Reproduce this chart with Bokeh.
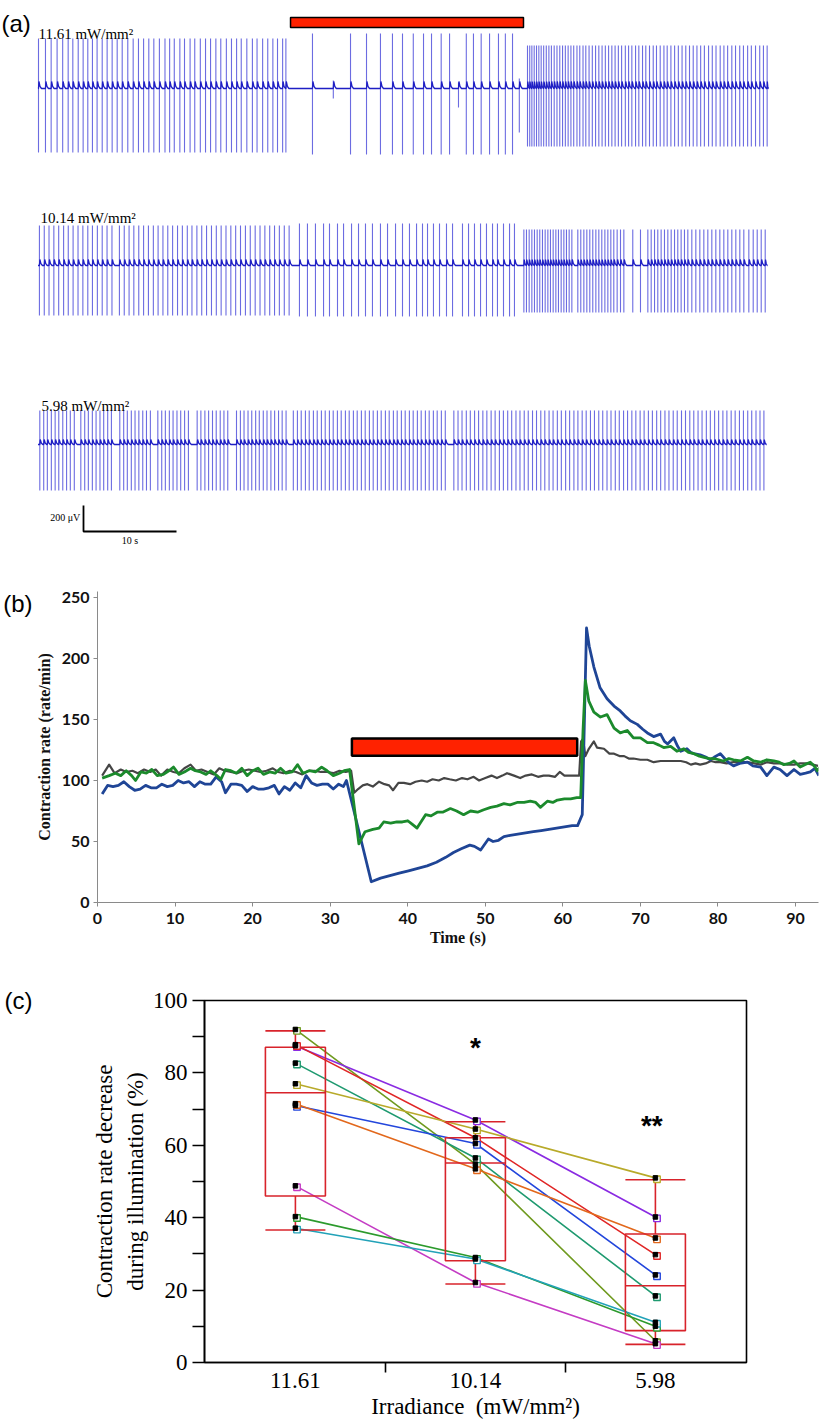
import math
from bokeh.plotting import figure
from bokeh.models import Range1d, FixedTicker, Label, LinearAxis
from bokeh.embed import file_html
from bokeh.resources import INLINE
from bokeh.core.properties import value

# ======================= DATA =======================
# ---- (a) extracellular recordings: spike times (s) ----
A_LABELS = ["11.61 mW/mm\u00b2", "10.14 mW/mm\u00b2", "5.98 mW/mm\u00b2"]
A_LIGHT = [27.1, 52.15]            # illumination in (a), s
A_SCALE_UV = 200
A_SCALE_S = 10

T1_PRE = [0.0, 0.75, 1.36, 2.0, 2.6, 3.19, 3.69, 4.27, 4.8, 5.3, 5.8, 6.3, 6.85, 7.38, 7.92,
          8.46, 9.0, 9.6, 10.18, 10.75, 11.3, 11.86, 12.4, 13.0, 13.6, 14.1, 14.6, 15.2, 15.7,
          16.3, 16.8, 17.4, 17.96, 18.5, 19.07, 19.6, 20.2, 20.75, 21.3, 21.8, 22.4, 23.0, 23.5,
          24.1, 24.65, 25.2, 25.7, 26.25, 26.6]
T1_LIGHT = [29.46, 33.55, 35.27, 36.77, 38.06, 39.14, 40.3, 41.4, 42.26, 43.3, 44.2, 46.0,
            46.77, 47.6, 48.5, 49.46, 50.2, 50.97]
T1_SMALL = [31.7, 45.16, 51.7]
T1_SMALL_UP = [62, 46, 77]
T1_SMALL_DOWN = [77, 146, 338]
T1_POST = [52.58, 52.82, 53.05, 53.3, 53.55, 53.8, 54.05, 54.32, 54.6, 54.88, 55.15, 55.45,
           55.75, 56.05, 56.35, 56.65, 56.95, 57.25, 57.55, 57.9, 58.2, 58.55, 58.85, 59.2,
           59.55, 59.9, 60.25, 60.6, 60.95, 61.3, 61.65, 62.0, 62.35, 62.7, 63.1, 63.45, 63.8,
           64.2, 64.55, 64.95, 65.3, 65.7, 66.1, 66.45, 66.85, 67.25, 67.6, 68.0, 68.4, 68.8,
           69.2, 69.6, 70.0, 70.4, 70.8, 71.2, 71.6, 72.05, 72.45, 72.85, 73.3, 73.7, 74.1,
           74.55, 74.95, 75.4, 75.8, 76.25, 76.65, 77.1, 77.55, 77.95, 78.35]
T1_UP = [385, 423, 331]        # µV, per segment (before / during / after)
T1_DOWN = [492, 508, 446]

T2_PRE = [0.1, 0.62, 1.13, 1.65, 2.17, 2.7, 3.2, 3.72, 4.25, 4.77, 5.3, 5.8, 6.33, 6.85, 7.37,
          7.9, 8.7, 9.22, 9.74, 10.25, 10.78, 11.3, 11.82, 12.35, 12.86, 13.38, 13.9, 14.42,
          14.95, 15.47, 16.0, 16.5, 17.03, 17.55, 18.07, 18.6, 19.12, 19.64, 20.16, 20.68, 21.2,
          21.72, 22.25, 22.77, 23.3, 23.82, 24.34, 24.86, 25.38, 25.9, 26.43, 26.95]
T2_LIGHT = [28.06, 28.92, 29.78, 30.65, 31.29, 32.15, 32.8, 33.66, 34.41, 35.16, 35.91, 36.77,
            37.53, 38.39, 39.14, 39.89, 40.65, 41.29, 41.83, 42.47, 43.12, 43.87, 44.52, 45.59,
            46.24, 46.88, 47.53, 48.17, 48.82, 49.35, 50.0, 50.65, 51.18]
T2_POST = [52.19, 52.47, 52.76, 53.05, 53.33, 53.62, 53.9, 54.19, 54.48, 54.77, 55.05, 55.34,
           55.63, 55.91, 56.2, 56.49, 56.77, 57.06, 57.35, 57.99, 58.31, 58.64, 58.96, 59.28,
           59.6, 59.93, 60.25, 60.57, 60.9, 61.22, 61.54, 61.86, 62.22, 62.58, 62.94, 63.9,
           64.73, 65.52, 65.88, 66.24, 66.59, 66.95, 67.31, 67.67, 68.03, 68.39, 68.74, 69.1,
           69.46, 69.82, 70.25, 70.68, 71.11, 71.54, 71.97, 72.4, 72.83, 73.26, 73.69, 74.12,
           74.55, 74.98, 75.41, 75.84, 76.38, 76.85, 77.28, 77.71, 78.14]
T2_UP = [308, 323, 277]
T2_DOWN = [385, 392, 361]

T3_ALL = [0.14, 0.56, 0.95, 1.38, 1.79, 2.18, 2.61, 3.02, 3.42, 3.85,
          4.55, 4.97, 5.36, 5.79, 6.19, 6.61, 7.01, 7.44, 7.84,
          8.74, 9.16, 9.55, 9.98, 10.38, 10.79, 11.21, 11.61, 12.03,
          12.83, 13.25, 13.64, 14.07, 14.47, 14.89, 15.29, 15.71, 16.12,
          17.06, 17.46, 17.89, 18.29, 18.71, 19.11, 19.54, 19.94, 20.35,
          21.29, 21.71, 22.1, 22.53, 22.93, 23.35, 23.74, 24.17, 24.57, 24.99, 25.39, 25.81,
          26.2, 26.62,
          27.4, 27.84, 28.25, 28.7, 29.11, 29.56, 29.97, 30.42, 30.83, 31.28, 31.69, 32.14,
          32.55, 33.0, 33.41, 33.86, 34.27, 34.72, 35.13, 35.58, 35.99, 36.44, 36.85, 37.3,
          37.71, 38.16, 38.57, 39.02, 39.43, 39.88, 40.29, 40.74, 41.15, 41.6, 42.01, 42.46,
          42.87, 43.32, 43.74,
          44.66, 45.11, 45.54, 46.0, 46.43, 46.89, 47.32, 47.78, 48.21, 48.67, 49.1, 49.56,
          49.99, 50.45, 50.88, 51.34, 51.77, 52.23, 52.66, 53.12, 53.55, 54.01, 54.44, 54.9,
          55.33, 55.79, 56.22, 56.68, 57.11, 57.57, 58.0, 58.46, 58.89, 59.35, 59.78, 60.24,
          60.67, 61.13, 61.56, 62.02, 62.45, 62.91, 63.34, 63.8, 64.23, 64.69, 65.12, 65.58,
          66.01, 66.47, 66.9, 67.36, 67.79, 68.25, 68.68, 69.14, 69.57, 70.03, 70.46, 70.92,
          71.35, 71.81, 72.24, 72.7, 73.13, 73.59, 74.02, 74.48, 74.91, 75.37, 75.8, 76.26,
          76.69, 77.15, 77.58, 78.0]
T3_UP = [262]
T3_DOWN = [354]
A_HUMP_UV = [54, 46, 38]
A_END = [78.5, 78.4, 78.3]

# ---- (b) contraction rate (rate/min) vs time (s) ----
B_LIGHT = [32.8, 61.85]
B_BAR = [120.2, 134.4]
B_BLUE = [(0.6, 89), (1.3, 96), (2.0, 95), (2.7, 96), (3.4, 99), (4.1, 95), (4.8, 92), (5.5, 93),
          (6.2, 96), (6.9, 94), (7.6, 94), (8.3, 97), (9.0, 95), (9.7, 96), (10.4, 100), (11.1, 98),
          (11.8, 99), (12.5, 95), (13.2, 99), (13.9, 97), (14.6, 97), (15.3, 103), (16.0, 99),
          (16.5, 90), (17.2, 97), (17.9, 97), (18.6, 96), (19.3, 91), (20.0, 95), (20.7, 93),
          (21.4, 93), (22.1, 94), (22.8, 96), (23.4, 89), (24.1, 95), (24.8, 92), (25.5, 98),
          (26.2, 94), (26.9, 104), (27.6, 98), (28.3, 96), (29.0, 97), (29.7, 97), (30.4, 93),
          (31.1, 97), (31.7, 95), (32.1, 100), (35.3, 17), (36.5, 20), (37.7, 22), (38.9, 24),
          (40.1, 26), (41.3, 28), (42.5, 30), (43.7, 33), (44.9, 37), (45.9, 41), (46.9, 44),
          (48.0, 47), (48.6, 46), (49.4, 43), (50.4, 52), (51.0, 50), (51.7, 51), (52.4, 54),
          (53.2, 55), (54.2, 56), (55.2, 57), (56.2, 58), (57.2, 59), (58.2, 60), (59.2, 61),
          (60.2, 62), (61.2, 63), (61.9, 63), (62.5, 72), (63.05, 225), (63.4, 210), (64.0, 193),
          (64.8, 176), (65.7, 167), (66.6, 161), (67.4, 157), (68.0, 153), (68.7, 149),
          (69.6, 146), (70.3, 142), (70.9, 139), (71.7, 136), (72.6, 138), (73.1, 132),
          (73.5, 130), (74.3, 135), (74.8, 128), (75.2, 124), (76.0, 126), (76.5, 123),
          (76.9, 122), (77.7, 121), (78.5, 119), (79.0, 117), (79.5, 119), (80.3, 122),
          (81.0, 117), (81.5, 114), (82.0, 112), (82.8, 114), (83.8, 115), (84.5, 112),
          (85.5, 111), (86.3, 104), (87.2, 111), (88.0, 109), (88.9, 104), (89.8, 109),
          (90.6, 105), (91.3, 106), (91.9, 107), (92.5, 110), (93.0, 104)]
B_GREEN = [(0.6, 102), (1.5, 104), (2.3, 106), (3.0, 104), (3.7, 108), (4.4, 104), (4.9, 100),
           (5.6, 107), (6.3, 106), (7.0, 109), (7.7, 104), (8.5, 105), (9.2, 108), (9.8, 111),
           (10.5, 105), (11.2, 107), (12.0, 110), (12.6, 108), (13.3, 107), (14.0, 105),
           (14.6, 108), (15.4, 104), (15.9, 101), (16.5, 109), (17.2, 108), (17.9, 106),
           (18.6, 110), (19.3, 104), (20.0, 108), (20.7, 110), (21.4, 105), (22.2, 107),
           (22.9, 106), (23.6, 110), (24.3, 106), (25.1, 107), (25.8, 113), (26.5, 106),
           (27.3, 108), (28.1, 107), (28.9, 111), (29.6, 108), (30.4, 104), (31.2, 106),
           (31.8, 108), (32.5, 109), (33.7, 48), (34.5, 58), (35.5, 60), (36.3, 61), (36.9, 66),
           (37.8, 65), (38.6, 66), (39.3, 66), (40.0, 67), (40.6, 64), (41.2, 61), (42.3, 72),
           (43.0, 71), (43.8, 74), (44.5, 74), (45.5, 77), (46.3, 75), (47.2, 72), (48.1, 75),
           (49.0, 74), (49.8, 76), (50.7, 78), (51.5, 79), (52.4, 81), (53.2, 80), (54.1, 82),
           (55.0, 82), (55.8, 83), (56.5, 82), (57.1, 78), (58.0, 83), (58.7, 82), (59.3, 84),
           (60.2, 85), (61.0, 85), (61.8, 86), (62.3, 86), (62.6, 141), (62.9, 182),
           (63.35, 165), (64.0, 156), (64.85, 152), (65.7, 154), (66.6, 143), (67.4, 139),
           (68.3, 141), (69.1, 135), (70.0, 135), (70.9, 131), (71.7, 131), (72.4, 129),
           (73.0, 127), (73.9, 128), (74.7, 124), (75.6, 126), (76.2, 123), (76.9, 122),
           (77.6, 120), (78.2, 119), (78.9, 118), (79.5, 118), (80.1, 117), (80.7, 116),
           (81.4, 118), (82.0, 117), (82.9, 116), (83.8, 119), (84.6, 116), (85.5, 115),
           (86.3, 117), (87.2, 116), (87.9, 115), (88.5, 113), (89.2, 114), (89.8, 116),
           (90.6, 111), (91.2, 113), (91.9, 115), (92.4, 112), (92.8, 108), (93.3, 112)]
B_GRAY = [(0.6, 104), (1.5, 113), (2.2, 106), (3.0, 109), (3.7, 107), (4.5, 108), (5.2, 106),
          (6.0, 109), (6.8, 107), (7.5, 109), (8.2, 104), (9.0, 109), (9.8, 107), (10.5, 106),
          (11.2, 110), (12.0, 113), (12.7, 108), (13.4, 109), (14.2, 107), (15.0, 105),
          (15.7, 110), (16.4, 108), (17.2, 107), (18.0, 106), (18.8, 108), (19.5, 109),
          (20.3, 108), (21.0, 107), (21.8, 108), (22.6, 110), (23.3, 107), (24.0, 106),
          (24.8, 108), (25.6, 107), (26.4, 105), (27.2, 108), (28.0, 108), (28.8, 107),
          (29.6, 107), (30.4, 106), (31.2, 108), (32.0, 107), (32.7, 108), (33.1, 90),
          (33.6, 93), (34.2, 96), (34.8, 97), (35.5, 95), (36.3, 99), (37.0, 97), (37.6, 96),
          (38.1, 92), (38.8, 98), (39.5, 98), (40.3, 97), (41.0, 99), (41.8, 100), (42.5, 99),
          (43.2, 101), (44.0, 100), (44.7, 102), (45.4, 101), (46.2, 100), (47.0, 102),
          (47.7, 101), (48.5, 103), (49.2, 100), (50.0, 102), (50.8, 104), (51.5, 102),
          (52.2, 104), (52.8, 106), (53.7, 104), (54.5, 102), (55.2, 104), (56.0, 105),
          (56.8, 103), (57.5, 104), (58.2, 104), (59.0, 103), (59.6, 107), (60.2, 104),
          (61.0, 104), (61.8, 104), (62.1, 104), (62.35, 132), (62.6, 134), (62.9, 120),
          (63.35, 126), (64.0, 132), (64.4, 127), (65.3, 126), (66.0, 122), (66.6, 122),
          (67.3, 120), (67.9, 120), (68.5, 118), (69.1, 118), (70.0, 117), (70.9, 117),
          (71.7, 115), (72.6, 116), (73.5, 116), (74.3, 116), (75.2, 116), (75.9, 115),
          (76.5, 113), (77.1, 114), (77.7, 113), (78.4, 114), (79.1, 116), (79.7, 115),
          (80.3, 115), (81.1, 114), (82.0, 115), (82.9, 115), (83.8, 115), (84.7, 114),
          (85.5, 113), (86.3, 115), (87.2, 114), (88.1, 114), (89.0, 113), (89.8, 113),
          (90.6, 114), (91.5, 114), (92.2, 113), (92.9, 112)]
B_Y_TICKS = [0, 50, 100, 150, 200, 250]
B_X_TICKS = [0, 10, 20, 30, 40, 50, 60, 70, 80, 90]

# ---- (c) contraction rate decrease (%) per irradiance ----
C_LEVELS = ["11.61", "10.14", "5.98"]
C_11_61 = [92.0, 87.5, 87.8, 82.7, 77.0, 71.0, 71.5, 48.8, 40.3, 37.1]
C_10_14 = [54.8, 67.0, 62.1, 56.5, 64.5, 60.5, 53.5, 22.1, 29.0, 28.6]
C_5_98 = [6.0, 40.2, 29.8, 18.4, 51.0, 24.2, 34.4, 5.2, 10.0, 11.1]
C_COLORS = ["#6f9a1f", "#8a2be2", "#e02626", "#1f9a70", "#b8aa2a",
            "#2346dc", "#e2681c", "#c43cc4", "#2c9a2c", "#22a2b8"]
BOX_Q1 = [46.0, 28.1, 8.8]
BOX_MED = [74.5, 55.1, 21.2]
BOX_Q3 = [87.1, 62.1, 35.5]
WHISK_LO = [36.6, 21.7, 5.0]
WHISK_HI = [91.6, 66.5, 50.5]
SIG_TEXT = ["*", "**"]
SIG_X = [1, 1.98]
SIG_Y = [87.0, 65.4]
C_Y_TICKS = [0, 20, 40, 60, 80, 100]
C_Y_MINOR = [10, 30, 50, 70, 90]

# ======================= STYLE / LAYOUT =======================
W = 827
SERIF = "Liberation Serif"
SANS = "Liberation Sans"

# ---------------- panel (a) ----------------
UV_PER_PX = 200 / 26.0
PX_PER_S = 9.3


def ax(px):
    return (px - 38) / PX_PER_S


def ay(py):
    return -py * UV_PER_PX


pa = figure(width=W, height=555, x_range=Range1d(ax(0), ax(W)),
            y_range=Range1d(ay(555), ay(0)), output_backend="svg",
            toolbar_location=None, x_axis_location=None, y_axis_location=None,
            min_border=0)
pa.outline_line_color = None
pa.grid.visible = False


def draw_trace(p, y0, segs, hump, t_end):
    xs, tops, bots, all_t = [], [], [], []
    for times, up, down in segs:
        for t in times:
            xs.append(t)
            tops.append(y0 + up)
            bots.append(y0 - down)
            all_t.append(t)
    p.segment(x0=xs, y0=tops, x1=xs, y1=bots, line_color="#3333d6",
              line_alpha=0.72, line_width=1.1)
    all_t.sort()
    bx, by = [-0.05], [y0]
    for i, t in enumerate(all_t):
        nxt = all_t[i + 1] if i + 1 < len(all_t) else t_end
        w = min(0.32, (nxt - t) * 0.85)
        bx += [t, t + 0.15 * w, t + 0.5 * w, t + w]
        by += [y0, y0 + hump, y0 + 0.3 * hump, y0]
    bx.append(t_end)
    by.append(y0)
    p.line(bx, by, line_color="#1f1fc4", line_width=1.3)


draw_trace(pa, ay(88),
           [(T1_PRE, T1_UP[0], T1_DOWN[0]), (T1_LIGHT, T1_UP[1], T1_DOWN[1]),
            (T1_POST, T1_UP[2], T1_DOWN[2])] +
           [([t], u, d) for t, u, d in zip(T1_SMALL, T1_SMALL_UP, T1_SMALL_DOWN)],
           A_HUMP_UV[0], A_END[0])
draw_trace(pa, ay(265),
           [(T2_PRE, T2_UP[0], T2_DOWN[0]), (T2_LIGHT, T2_UP[1], T2_DOWN[1]),
            (T2_POST, T2_UP[2], T2_DOWN[2])],
           A_HUMP_UV[1], A_END[1])
draw_trace(pa, ay(444), [(T3_ALL, T3_UP[0], T3_DOWN[0])], A_HUMP_UV[2], A_END[2])

# illumination bar
pa.quad(left=[A_LIGHT[0]], right=[A_LIGHT[1]], bottom=[ay(27)], top=[ay(17)],
        fill_color="#ff2200", line_color="black", line_width=1.5)

# trace labels
pa.text(x=[ax(38), ax(40), ax(41)], y=[ay(33), ay(217), ay(405)], text=A_LABELS,
        text_font=value(SERIF), text_font_size="15px", text_color="black",
        text_baseline="alphabetic", text_align="left")
pa.add_layout(Label(x=ax(1), y=ay(23), text="(a)", text_font=SANS, text_font_size="24px",
                    text_baseline="middle", text_align="left", text_color="black"))

# scale bar
sb_t0 = ax(83)
sb_y0 = ay(531)
pa.line([sb_t0, sb_t0, sb_t0 + A_SCALE_S], [sb_y0 + A_SCALE_UV, sb_y0, sb_y0],
        line_color="black", line_width=1.8)
pa.text(x=[sb_t0 - 0.35], y=[sb_y0 + A_SCALE_UV * 0.55], text=["200 \u03bcV"],
        text_font=value(SERIF), text_font_size="10px", text_align="right",
        text_baseline="middle")
pa.text(x=[sb_t0 + A_SCALE_S / 2], y=[ay(534)], text=["10 s"],
        text_font=value(SERIF), text_font_size="10px", text_align="center",
        text_baseline="top")

# ---------------- panel (b) ----------------
B_PX_PER_S = 7.756
B_PX_PER_U = 1.22
pb = figure(width=W, height=403, x_range=Range1d(0, 721 / B_PX_PER_S),
            y_range=Range1d(0, 311 / B_PX_PER_U), output_backend="svg",
            toolbar_location=None, min_border_left=97, min_border_right=9,
            min_border_top=36, min_border_bottom=56)
pb.outline_line_color = None
pb.grid.visible = False

for series, col, lw in [(B_GRAY, "#454545", 2.2), (B_BLUE, "#1f4596", 2.8),
                        (B_GREEN, "#1b8a2c", 2.8)]:
    ts = [a for a, b in series]
    vs = [b for a, b in series]
    pb.line(ts, vs, line_color=col, line_width=lw, line_join="round")

pb.quad(left=[B_LIGHT[0]], right=[B_LIGHT[1]], bottom=[B_BAR[0]], top=[B_BAR[1]],
        fill_color="#ff2200", line_color="black", line_width=2.5)

pb.xaxis.ticker = FixedTicker(ticks=B_X_TICKS)
pb.yaxis.ticker = FixedTicker(ticks=B_Y_TICKS)
for axis in (pb.xaxis, pb.yaxis):
    axis.axis_line_color = "#8a8a8a"
    axis.major_tick_line_color = "#8a8a8a"
    axis.major_tick_out = 4
    axis.major_tick_in = 0
    axis.minor_tick_line_color = None
    axis.major_label_text_font = "Lato"
    axis.major_label_text_font_style = "bold"
    axis.major_label_text_font_size = "16px"
    axis.major_label_text_color = "#111111"
    axis.axis_label_text_font = SERIF
    axis.axis_label_text_font_style = "bold"
    axis.axis_label_text_font_size = "16px"
    axis.axis_label_text_color = "#111111"
pb.xaxis.major_label_standoff = 6
pb.yaxis.major_label_standoff = 4
pb.xaxis.axis_label = "Time (s)"
pb.xaxis.axis_label_standoff = 2
pb.yaxis.axis_label = "Contraction rate (rate/min)"
pb.yaxis.axis_label_standoff = 6

b_tag_y = 245
tag_b = LinearAxis(ticker=FixedTicker(ticks=[b_tag_y]), major_label_overrides={b_tag_y: "(b)"},
                   axis_line_color=None, major_tick_line_color=None, minor_tick_line_color=None,
                   major_tick_out=0, major_tick_in=0, major_label_standoff=0,
                   major_label_text_font=SANS, major_label_text_font_size="24px",
                   major_label_text_color="black")
pb.add_layout(tag_b, "left")

# ---------------- panel (c) ----------------
C_PX_PER_X = 180.0
C_PX_PER_Y = 3.617
pc = figure(width=W, height=466, x_range=Range1d(-0.505, -0.505 + 542 / C_PX_PER_X),
            y_range=Range1d(0, 100), output_backend="svg", toolbar_location=None,
            min_border_left=204, min_border_right=81, min_border_top=42,
            min_border_bottom=62)
pc.grid.visible = False
pc.outline_line_color = "black"
pc.outline_line_width = 1.6

RED = "#d8232b"
xs_lvl = [0, 1, 2]
subj_vals = list(zip(C_11_61, C_10_14, C_5_98))
for vals, col in zip(subj_vals, C_COLORS):
    pc.line(xs_lvl, list(vals), line_color=col, line_width=1.6)

hw = 30 / C_PX_PER_X
pc.quad(left=[x - hw for x in xs_lvl], right=[x + hw for x in xs_lvl], bottom=BOX_Q1,
        top=BOX_Q3, fill_color=None, line_color=RED, line_width=1.6)
pc.segment(x0=[x - hw for x in xs_lvl], x1=[x + hw for x in xs_lvl], y0=BOX_MED, y1=BOX_MED,
           line_color=RED, line_width=1.6)
pc.segment(x0=xs_lvl, x1=xs_lvl, y0=BOX_Q3, y1=WHISK_HI, line_color=RED, line_width=1.6)
pc.segment(x0=xs_lvl, x1=xs_lvl, y0=BOX_Q1, y1=WHISK_LO, line_color=RED, line_width=1.6)
pc.segment(x0=[x - hw for x in xs_lvl], x1=[x + hw for x in xs_lvl], y0=WHISK_HI, y1=WHISK_HI,
           line_color=RED, line_width=1.6)
pc.segment(x0=[x - hw for x in xs_lvl], x1=[x + hw for x in xs_lvl], y0=WHISK_LO, y1=WHISK_LO,
           line_color=RED, line_width=1.6)

dx = 1.6 / C_PX_PER_X
dy = 1.4 / C_PX_PER_Y
mx, my, mc = [], [], []
for vals, col in zip(subj_vals, C_COLORS):
    for x, v in zip(xs_lvl, vals):
        mx.append(x)
        my.append(v)
        mc.append(col)
pc.scatter([x + dx for x in mx], [y - dy for y in my], marker="square", size=6.5,
           fill_color="white", line_color=mc, line_width=1.4)
pc.scatter(mx, my, marker="square", size=4.5, fill_color="black", line_color="black")

pc.text(x=SIG_X, y=SIG_Y, text=SIG_TEXT, text_font=value(SANS), text_font_style="bold",
        text_font_size="28px", text_align="center", text_baseline="alphabetic",
        text_color="black")

pc.xaxis.ticker = FixedTicker(ticks=xs_lvl, minor_ticks=[0.5, 1.5])
pc.xaxis.major_label_overrides = {i: lab for i, lab in enumerate(C_LEVELS)}
pc.xaxis.major_tick_out = 10
pc.xaxis.major_tick_in = 0
pc.xaxis.major_tick_line_color = None
pc.xaxis.minor_tick_out = 10
pc.xaxis.minor_tick_in = 0
pc.xaxis.minor_tick_line_color = "black"
pc.xaxis.minor_tick_line_width = 1.6
pc.xaxis.major_label_standoff = 0
pc.xaxis.axis_label = "Irradiance\u2002(mW/mm\u00b2)"
pc.xaxis.axis_label_standoff = 3

pc.yaxis.ticker = FixedTicker(ticks=C_Y_TICKS, minor_ticks=C_Y_MINOR)
pc.yaxis.major_tick_out = 12
pc.yaxis.major_tick_in = 0
pc.yaxis.minor_tick_out = 12
pc.yaxis.minor_tick_in = 0
pc.yaxis.major_tick_line_width = 1.6
pc.yaxis.minor_tick_line_width = 1.6
pc.yaxis.minor_tick_line_color = "black"
pc.yaxis.major_label_standoff = 5
pc.yaxis.axis_label = "during illumination (%)"
pc.yaxis.axis_label_standoff = 2
for axis in (pc.xaxis, pc.yaxis):
    axis.axis_line_color = "black"
    axis.axis_line_width = 1.6
    axis.major_label_text_font = SERIF
    axis.major_label_text_font_size = "23px"
    axis.major_label_text_color = "black"
    axis.axis_label_text_font = SERIF
    axis.axis_label_text_font_style = "normal"
    axis.axis_label_text_font_size = "23px"
    axis.axis_label_text_color = "black"

ylab2 = LinearAxis(ticker=FixedTicker(ticks=[]), axis_label="Contraction rate decrease",
                   axis_line_color=None, major_tick_line_color=None, minor_tick_line_color=None,
                   major_tick_out=0, major_tick_in=0, major_label_standoff=0,
                   axis_label_standoff=3, axis_label_text_font=SERIF,
                   axis_label_text_font_style="normal", axis_label_text_font_size="23px",
                   axis_label_text_color="black")
pc.add_layout(ylab2, "left")
tag_c = LinearAxis(ticker=FixedTicker(ticks=[100]), major_label_overrides={100: "(c)"},
                   axis_line_color=None, major_tick_line_color=None, minor_tick_line_color=None,
                   major_tick_out=0, major_tick_in=0, major_label_standoff=56,
                   major_label_text_font=SANS, major_label_text_font_size="24px",
                   major_label_text_color="black")
pc.add_layout(tag_c, "left")

open("out.html", "w").write(file_html([pa, pb, pc], INLINE))
